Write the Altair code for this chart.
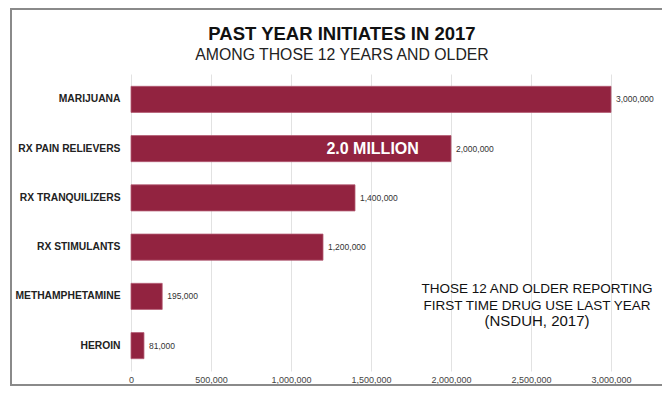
import altair as alt
import pandas as pd

categories = ["MARIJUANA", "RX PAIN RELIEVERS", "RX TRANQUILIZERS", "RX STIMULANTS",
              "METHAMPHETAMINE", "HEROIN"]
values = [3000000, 2000000, 1400000, 1200000, 195000, 81000]
tick_values = [0, 500000, 1000000, 1500000, 2000000, 2500000, 3000000]

callout_category = ["RX PAIN RELIEVERS"]
callout_value = [1510000]
callout_text = ["2.0 MILLION"]

note_lines = ["THOSE 12 AND OLDER REPORTING", "FIRST TIME DRUG USE LAST YEAR", "(NSDUH, 2017)"]

FONT = "Liberation Sans"
BAR = "#922340"

df = pd.DataFrame({"cat": categories, "value": values})
df_call = pd.DataFrame({"cat": callout_category, "value": callout_value, "txt": callout_text})

W, H = 480, 297
TOP = 66

xenc = alt.X("value:Q",
             scale=alt.Scale(domain=[0, 3000000], nice=False, zero=True),
             axis=alt.Axis(values=tick_values, format=",d", title=None, grid=True,
                           gridColor="#e2e2e2", gridWidth=1, domain=False, ticks=False,
                           labelFontSize=9, labelColor="#444", labelPadding=4,
                           labelFlush=False, labelFont=FONT))
yenc = alt.Y("cat:N", sort=categories,
             scale=alt.Scale(paddingInner=0.47, paddingOuter=0.25),
             axis=alt.Axis(title=None, domain=False, ticks=False, labelPadding=11,
                           labelFontWeight="bold", labelFontSize=10.3, labelColor="#222",
                           labelFont=FONT, grid=False))

base = alt.Chart(df)
bars = base.mark_bar(color=BAR, stroke="#b35a72", strokeWidth=0.8).encode(x=xenc, y=yenc)
vals = base.mark_text(align="left", baseline="middle", dx=5, fontSize=8.5,
                      color="#333", font=FONT).encode(
    x="value:Q", y=alt.Y("cat:N", sort=categories),
    text=alt.Text("value:Q", format=",d"))

call = alt.Chart(df_call).mark_text(align="center", baseline="middle", fontSize=16,
                                    fontWeight="bold", color="white", font=FONT).encode(
    x="value:Q", y=alt.Y("cat:N", sort=categories), text="txt:N")

title = alt.Chart(pd.DataFrame({"t": ["PAST YEAR INITIATES IN 2017"]})).mark_text(
    align="center", baseline="alphabetic", fontSize=18.5, fontWeight="bold", color="#111",
    font=FONT).encode(x=alt.value(211), y=alt.value(39.5 - 8 - TOP), text="t:N")
subtitle = alt.Chart(pd.DataFrame({"t": ["AMONG THOSE 12 YEARS AND OLDER"]})).mark_text(
    align="center", baseline="alphabetic", fontSize=15.8, color="#222",
    font=FONT).encode(x=alt.value(211), y=alt.value(59.5 - 8 - TOP), text="t:N")

note_layers = []
note_base = [293, 310, 326]
note_size = [13.5, 13.5, 15]
for line, yy, fs in zip(note_lines, note_base, note_size):
    note_layers.append(
        alt.Chart(pd.DataFrame({"t": [line]})).mark_text(
            align="center", baseline="alphabetic", fontSize=fs, color="#111", font=FONT
        ).encode(x=alt.value(406), y=alt.value(yy - 8 - TOP), text="t:N"))

frame_color = "#8a8a8a"
left_line = alt.Chart(pd.DataFrame({"a": [0]})).mark_rule(color=frame_color, strokeWidth=2).encode(
    x=alt.value(-120), y=alt.value(-TOP), y2=alt.value(312))
top_line = alt.Chart(pd.DataFrame({"a": [0]})).mark_rule(color=frame_color, strokeWidth=2).encode(
    x=alt.value(-121), x2=alt.value(560), y=alt.value(-TOP + 1))
bottom_line = alt.Chart(pd.DataFrame({"a": [0]})).mark_rule(color=frame_color, strokeWidth=2).encode(
    x=alt.value(-121), x2=alt.value(560), y=alt.value(311))

chart = alt.layer(bars, vals, call, title, subtitle, *note_layers,
                  left_line, top_line, bottom_line).properties(
    width=W, height=H,
    autosize=alt.AutoSizeParams(type="none"),
    padding={"left": 123, "top": TOP, "right": 51, "bottom": 15},
    background="white",
).configure_view(stroke=None)

chart.save("out.html", embed_options={"renderer": "svg", "actions": False})
